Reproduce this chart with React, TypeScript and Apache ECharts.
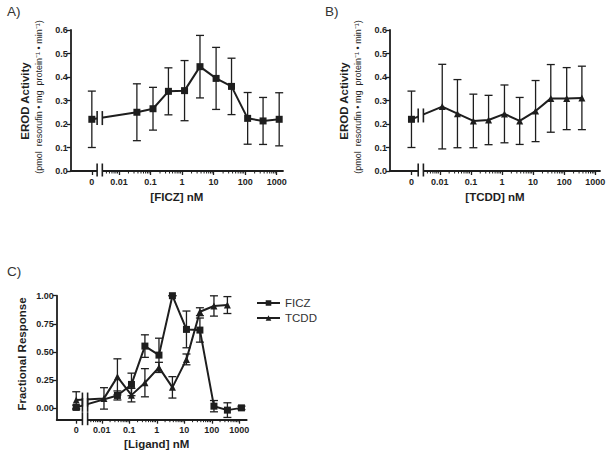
import React, { useEffect, useRef } from 'react';
import * as echarts from 'echarts';

// ---------- data ----------
const concFICZ = [0, 0.037, 0.12, 0.37, 1.2, 3.7, 12, 37, 120, 370, 1200];
const concTCDD = [0, 0.012, 0.037, 0.12, 0.37, 1.2, 3.7, 12, 37, 120, 370];

const erodFICZ = [0.22, 0.25, 0.265, 0.339, 0.342, 0.444, 0.394, 0.36, 0.224, 0.213, 0.22];
const erodFICZErr = [0.12, 0.121, 0.091, 0.1, 0.128, 0.133, 0.132, 0.12, 0.11, 0.1, 0.113];

const erodTCDD = [0.22, 0.274, 0.244, 0.213, 0.217, 0.243, 0.213, 0.255, 0.309, 0.308, 0.311];
const erodTCDDErr = [0.12, 0.18, 0.145, 0.114, 0.105, 0.123, 0.1, 0.13, 0.144, 0.132, 0.135];

const fracFICZ = [0.009, 0.115, 0.213, 0.553, 0.473, 1.0, 0.701, 0.695, 0.02, -0.015, 0.005];
const fracFICZErr = [0.02, 0.04, 0.1, 0.1, 0.15, 0, 0.163, 0.107, 0.05, 0.065, 0.015];

const fracTCDD = [0.074, 0.089, 0.28, 0.118, 0.228, 0.364, 0.187, 0.435, 0.858, 0.909, 0.917];
const fracTCDDErr = [0.074, 0.095, 0.16, 0.06, 0.125, 0.045, 0.095, 0.048, 0.035, 0.09, 0.075];

const xTickValues = [0, 0.01, 0.1, 1, 10, 100, 1000];
const xTickLabels = ['0', '0.01', '0.1', '1', '10', '100', '1000'];
const yTicksEROD = [0, 0.1, 0.2, 0.3, 0.4, 0.5, 0.6];
const yTicksFrac = [0, 0.25, 0.5, 0.75, 1.0];

// ---------- style ----------
const INK = '#1e1e1e';
const FONT = 'Liberation Sans, Arial, sans-serif';
const BREAK_POS = -2.61;

type LineDef = {
  name: string;
  conc: number[];
  mean: number[];
  err: number[];
  symbol: string;
  firstSymbol?: string;
};

type Panel = {
  grid: { left: number; top: number; width: number; height: number };
  xMin: number;
  xMax: number;
  zero: number;
  yMin: number;
  yMax: number;
  yTicks: number[];
  yDigits: number;
  xName: string;
  xNameGap: number;
  xNamePad: number;
  lines: LineDef[];
};

const panels: Panel[] = [
  {
    grid: { left: 70.7, top: 30, width: 212.3, height: 141 },
    xMin: -3.53, xMax: 3.2, zero: -2.86,
    yMin: 0, yMax: 0.6, yTicks: yTicksEROD, yDigits: 1,
    xName: '[FICZ] nM', xNameGap: 20, xNamePad: 0,
    lines: [{ name: 'FICZ (A)', conc: concFICZ, mean: erodFICZ, err: erodFICZErr, symbol: 'rect' }],
  },
  {
    grid: { left: 390, top: 30, width: 210, height: 141 },
    xMin: -3.6, xMax: 3.15, zero: -2.91,
    yMin: 0, yMax: 0.6, yTicks: yTicksEROD, yDigits: 1,
    xName: '[TCDD] nM', xNameGap: 20, xNamePad: 0,
    lines: [{ name: 'TCDD (B)', conc: concTCDD, mean: erodTCDD, err: erodTCDDErr, symbol: 'triangle', firstSymbol: 'rect' }],
  },
  {
    grid: { left: 56.7, top: 295.7, width: 190, height: 124 },
    xMin: -3.64, xMax: 3.27, zero: -2.93,
    yMin: -0.1, yMax: 1.0, yTicks: yTicksFrac, yDigits: 2,
    xName: '[Ligand] nM', xNameGap: 18, xNamePad: 10,
    lines: [
      { name: 'FICZ', conc: concFICZ, mean: fracFICZ, err: fracFICZErr, symbol: 'rect' },
      { name: 'TCDD', conc: concTCDD, mean: fracTCDD, err: fracTCDDErr, symbol: 'triangle' },
    ],
  },
];

const pos = (c: number, zero: number) => (c === 0 ? zero : Math.log10(c));

function buildOption() {
  const grid: any[] = [];
  const xAxis: any[] = [];
  const yAxis: any[] = [];
  const series: any[] = [];

  panels.forEach((p, gi) => {
    grid.push({ ...p.grid, containLabel: false });
    const xTickPos = xTickValues.map((v) => pos(v, p.zero));
    xAxis.push({
      type: 'value',
      gridIndex: gi,
      min: p.xMin,
      max: p.xMax,
      splitLine: { show: false },
      axisLine: { onZero: false, lineStyle: { color: INK, width: 1.8 } },
      axisTick: { show: true, customValues: xTickPos, length: 4, lineStyle: { color: INK, width: 1.3 } },
      axisLabel: {
        customValues: xTickPos,
        formatter: (v: number) => {
          const i = xTickPos.findIndex((t) => Math.abs(t - v) < 1e-6);
          return i >= 0 ? xTickLabels[i] : '';
        },
        fontFamily: FONT,
        fontWeight: 'bold',
        fontSize: 9,
        color: INK,
        margin: 6,
      },
      name: p.xName,
      nameLocation: 'middle',
      nameGap: p.xNameGap,
      nameTextStyle: { fontFamily: FONT, fontWeight: 'bold', fontSize: 11.5, color: INK, padding: [0, 0, 0, p.xNamePad] },
    });
    yAxis.push({
      type: 'value',
      gridIndex: gi,
      min: p.yMin,
      max: p.yMax,
      splitLine: { show: false },
      axisLine: { show: true, onZero: false, lineStyle: { color: INK, width: 1.8 } },
      axisTick: { show: true, customValues: p.yTicks, length: 4, lineStyle: { color: INK, width: 1.3 } },
      axisLabel: {
        customValues: p.yTicks,
        formatter: (v: number) => v.toFixed(p.yDigits),
        fontFamily: FONT,
        fontWeight: 'bold',
        fontSize: 9,
        color: INK,
        margin: 3,
      },
    });

    p.lines.forEach((l) => {
      // error bars
      series.push({
        type: 'custom',
        name: l.name + ' err',
        xAxisIndex: gi,
        yAxisIndex: gi,
        z: 1,
        clip: false,
        data: l.conc.map((c, i) => [pos(c, p.zero), l.mean[i] - l.err[i], l.mean[i] + l.err[i]]),
        encode: { x: 0, y: [1, 2] },
        renderItem: (params: any, api: any) => {
          const x = api.value(0);
          const top = api.coord([x, api.value(2)]);
          const bot = api.coord([x, api.value(1)]);
          const w = 4;
          const st = { stroke: INK, lineWidth: 1.3 };
          return {
            type: 'group',
            children: [
              { type: 'line', shape: { x1: top[0], y1: top[1], x2: bot[0], y2: bot[1] }, style: st },
              { type: 'line', shape: { x1: top[0] - w, y1: top[1], x2: top[0] + w, y2: top[1] }, style: st },
              { type: 'line', shape: { x1: bot[0] - w, y1: bot[1], x2: bot[0] + w, y2: bot[1] }, style: st },
            ],
          };
        },
      });
      // line with markers
      series.push({
        type: 'line',
        name: l.name,
        xAxisIndex: gi,
        yAxisIndex: gi,
        z: 3,
        symbol: l.symbol,
        symbolSize: 7,
        showSymbol: true,
        color: INK,
        itemStyle: { color: INK },
        lineStyle: { color: INK, width: 2 },
        data: l.conc.map((c, i) => {
          const v = [pos(c, p.zero), l.mean[i]];
          return i === 0 && l.firstSymbol ? { value: v, symbol: l.firstSymbol } : v;
        }),
      });
    });

    // minor ticks and axis breaks
    series.push({
      type: 'custom',
      name: 'decor' + gi,
      xAxisIndex: gi,
      yAxisIndex: gi,
      z: 10,
      clip: false,
      silent: true,
      data: [[p.xMin, p.yMin]],
      renderItem: (params: any, api: any) => {
        const rects: any[] = [];
        const bars: any[] = [];
        const axisY = api.coord([p.xMin, p.yMin])[1];
        for (let d = -3; d <= 2; d++) {
          for (let k = 2; k <= 9; k++) {
            const v = d + Math.log10(k);
            if (v <= -2.5 || v >= p.xMax) continue;
            const px = api.coord([v, p.yMin])[0];
            bars.push({ type: 'line', shape: { x1: px, y1: axisY, x2: px, y2: axisY + 2.5 }, style: { stroke: INK, lineWidth: 1 } });
          }
        }
        const cx = api.coord([BREAK_POS, p.yMin])[0];
        const half = 2.6;
        const bst = { stroke: INK, lineWidth: 1.6 };
        const spans: [number, number][] = [];
        p.lines.forEach((l) => {
          const p0 = api.coord([pos(l.conc[0], p.zero), l.mean[0]]);
          const p1 = api.coord([pos(l.conc[1], p.zero), l.mean[1]]);
          const t = (cx - p0[0]) / (p1[0] - p0[0]);
          const y = p0[1] + t * (p1[1] - p0[1]);
          spans.push([y - 7, y + 7]);
          rects.push({ type: 'rect', shape: { x: cx - half, y: y - 4, width: 2 * half, height: 8 }, style: { fill: '#ffffff' } });
        });
        spans.push([axisY - 7.5, axisY + 5.5]);
        rects.push({ type: 'rect', shape: { x: cx - half, y: axisY - 2, width: 2 * half, height: 4 }, style: { fill: '#ffffff' } });
        spans.forEach(([y1, y2]) => {
          bars.push({ type: 'line', shape: { x1: cx - half, y1, x2: cx - half, y2 }, style: bst });
          bars.push({ type: 'line', shape: { x1: cx + half, y1, x2: cx + half, y2 }, style: bst });
        });
        return { type: 'group', children: [...rects, ...bars] };
      },
    });
  });

  const sub = '(pmol  resorufin \u2022 mg  protein\u207B\u00B9 \u2022 min\u207B\u00B9)';
  const graphic: any[] = [
    { type: 'text', x: 7, y: 11, style: { text: 'A)', font: `13.5px ${FONT}`, fill: '#333', verticalAlign: 'middle' } },
    { type: 'text', x: 325, y: 11, style: { text: 'B)', font: `13.5px ${FONT}`, fill: '#333', verticalAlign: 'middle' } },
    { type: 'text', x: 7, y: 271, style: { text: 'C)', font: `13.5px ${FONT}`, fill: '#333', verticalAlign: 'middle' } },
    { type: 'text', x: 25, y: 101, rotation: Math.PI / 2, style: { text: 'EROD Activity', font: `bold 11.5px ${FONT}`, fill: INK, align: 'center', verticalAlign: 'middle' } },
    { type: 'text', x: 39, y: 97, rotation: Math.PI / 2, style: { text: sub, font: `9px ${FONT}`, fill: INK, align: 'center', verticalAlign: 'middle' } },
    { type: 'text', x: 344, y: 101, rotation: Math.PI / 2, style: { text: 'EROD Activity', font: `bold 11.5px ${FONT}`, fill: INK, align: 'center', verticalAlign: 'middle' } },
    { type: 'text', x: 358, y: 97, rotation: Math.PI / 2, style: { text: sub, font: `9px ${FONT}`, fill: INK, align: 'center', verticalAlign: 'middle' } },
    { type: 'text', x: 21.5, y: 354, rotation: Math.PI / 2, style: { text: 'Fractional Response', font: `bold 11.5px ${FONT}`, fill: INK, align: 'center', verticalAlign: 'middle' } },
  ];

  return {
    animation: false,
    backgroundColor: '#ffffff',
    grid,
    xAxis,
    yAxis,
    series,
    graphic,
    legend: {
      data: ['FICZ', 'TCDD'],
      orient: 'vertical',
      left: 256,
      top: 297,
      padding: 0,
      itemWidth: 23,
      itemHeight: 7,
      itemGap: 3,
      selectedMode: false,
      textStyle: { fontFamily: FONT, fontSize: 11.5, color: '#333' },
    },
  };
}

export default function App() {
  const ref = useRef<HTMLDivElement>(null);
  useEffect(() => {
    if (!ref.current) return;
    const chart = echarts.init(ref.current, null, { renderer: 'svg' });
    chart.setOption(buildOption() as any);
    return () => chart.dispose();
  }, []);
  return (
    <div
      ref={ref}
      style={{ position: 'absolute', left: 0, top: 0, width: 612, height: 455, background: '#fff' }}
    />
  );
}
